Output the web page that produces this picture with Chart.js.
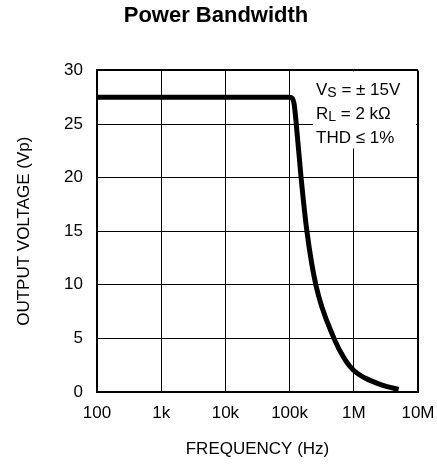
<html>
<head>
	<title>Power Bandwidth</title>
	<script type="text/javascript" src="https://cdn.jsdelivr.net/npm/chart.js@4/dist/chart.umd.min.js"></script>
	<style>
		body { margin: 0; background: #fff; }
		#wrap { width: 437px; height: 468px; }
	</style>
</head>
<body>
	<div id="wrap"><canvas id="canvas"></canvas></div>
	<script type="text/javascript">
		// curve
		var freqHz   = [100, 100000, 110000, 118000, 127000, 151000, 186000, 256000, 491000, 733000, 1000000, 1500000, 2330000, 3300000, 5000000];
		var voutVp   = [27.5, 27.5, 27.4, 26.8, 25, 20, 15, 10, 5, 3.0, 2.0, 1.3, 0.8, 0.5, 0.25];
		var xTicks   = [100, 1000, 10000, 100000, 1000000, 10000000];
		var xLabels  = ["100", "1k", "10k", "100k", "1M", "10M"];
		var yTicks   = [0, 5, 10, 15, 20, 25, 30];
		var noteLines = [
			[{t: "V"}, {t: "S", sub: true}, {t: " = \u00B1 15V"}],
			[{t: "R"}, {t: "L", sub: true}, {t: " = 2 k\u03A9"}],
			[{t: "THD \u2264 1%"}]
		];

		var sans = "'Liberation Sans', Arial, sans-serif";
		Chart.defaults.font.family = sans;
		Chart.defaults.font.size = 17;
		Chart.defaults.color = "#000";

		var points = [];
		for (var i = 0; i < freqHz.length; i++) {
			points.push({x: freqHz[i], y: voutVp[i]});
		}

		// white box with the test conditions, top right of the plot
		var notePlugin = {
			id: "note",
			beforeDatasetsDraw: function(chart) {
				var ctx = chart.ctx, a = chart.chartArea;
				ctx.save();
				ctx.fillStyle = "#fff";
				ctx.fillRect(a.right - 105, a.top + 1, 103, 77);
				ctx.fillStyle = "#000";
				ctx.textBaseline = "alphabetic";
				var x0 = a.right - 102;
				for (var l = 0; l < noteLines.length; l++) {
					var x = x0, y = a.top + 25 + l * 24;
					noteLines[l].forEach(function(p) {
						ctx.font = (p.sub ? "14px " : "17px ") + sans;
						ctx.fillText(p.t, x, p.sub ? y + 2 : y);
						x += ctx.measureText(p.t).width;
					});
				}
				ctx.restore();
			}
		};

		var ctx = document.getElementById("canvas").getContext("2d");
		new Chart(ctx, {
			type: "line",
			data: {
				datasets: [{
					data: points,
					borderColor: "#000",
					borderWidth: 5,
					pointRadius: 0,
					fill: false,
					cubicInterpolationMode: "monotone"
				}]
			},
			options: {
				animation: false,
				responsive: true,
				maintainAspectRatio: false,
				layout: { padding: { top: 0, right: 19, bottom: 8, left: 14 } },
				plugins: {
					legend: { display: false },
					tooltip: { enabled: false },
					title: {
						display: true,
						text: "Power Bandwidth",
						color: "#000",
						font: { family: sans, weight: "bold", size: 22 },
						padding: { top: 3, bottom: 41 }
					}
				},
				scales: {
					x: {
						type: "logarithmic",
						min: 100,
						max: 10000000,
						afterBuildTicks: function(scale) {
							scale.ticks = xTicks.map(function(v) { return {value: v}; });
						},
						afterFit: function(scale) {
							scale.height = 68;
							// let "10M" hang into the right margin
							scale.paddingLeft = 0;
							scale.paddingRight = 0;
						},
						ticks: {
							autoSkip: false,
							maxRotation: 0,
							padding: 11,
							callback: function(v, i) { return xLabels[i]; }
						},
						grid: {
							color: "#000",
							drawTicks: false,
							lineWidth: function(c) { return c.index === xTicks.length - 1 ? 2 : 1; }
						},
						border: { color: "#000", width: 2 },
						title: { display: true, text: "FREQUENCY (Hz)", color: "#000", padding: 0 }
					},
					y: {
						min: 0,
						max: 30,
						afterBuildTicks: function(scale) {
							scale.ticks = yTicks.map(function(v) { return {value: v}; });
						},
						afterFit: function(scale) { scale.width = 83; },
						ticks: { padding: 14 },
						grid: {
							color: "#000",
							drawTicks: false,
							lineWidth: function(c) { return c.index === yTicks.length - 1 ? 2 : 1; }
						},
						border: { color: "#000", width: 2 },
						title: { display: true, text: "OUTPUT VOLTAGE (Vp)", color: "#000", padding: 0 }
					}
				}
			},
			plugins: [notePlugin]
		});
	</script>
</body>
</html>
